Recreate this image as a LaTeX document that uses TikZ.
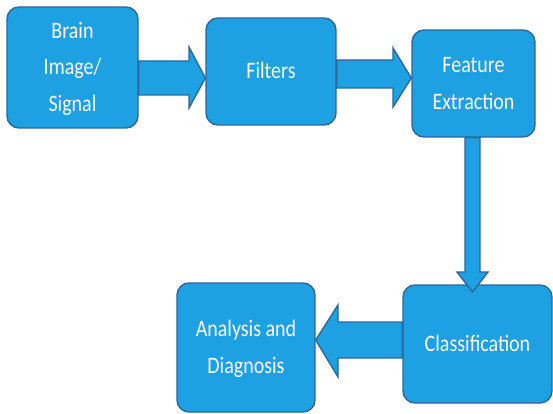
\documentclass[tikz,border=0pt]{standalone}
\usepackage{graphicx}
\usepackage{fontspec}
\setmainfont{Carlito}
\definecolor{boxblue}{RGB}{29,161,226}
\definecolor{edgeblue}{RGB}{44,104,156}
\newcommand{\lbl}[1]{\scalebox{1}[1.18]{\begin{tabular}{@{}c@{}}#1\end{tabular}}}
\tikzset{
  box/.style={rectangle, rounded corners=12pt, fill=boxblue, draw=edgeblue, line width=1.4pt,
    text=white, font=\fontsize{20}{31}\selectfont, inner sep=0pt},
  arr/.style={fill=boxblue, draw=edgeblue, line width=1.4pt, line join=miter}
}
\begin{document}
\begin{tikzpicture}[x=1pt,y=-1pt]
\useasboundingbox[fill=white] (0,0) rectangle (553,414);
% nodes
\node[box, minimum width=131pt, minimum height=121pt] (b1) at (72.5,67.5) {\lbl{Brain\\Image/\\Signal}};
\node[box, minimum width=130pt, minimum height=107pt] (b2) at (271,71.5) {\lbl{Filters}};
\node[box, minimum width=123pt, minimum height=107pt] (b3) at (473.5,83.5) {\lbl{Feature\\Extraction}};
\node[box, minimum width=149pt, minimum height=118pt] (b4) at (477.5,344) {\lbl{Classification}};
\node[box, minimum width=138pt, minimum height=129pt] (b5) at (246,347.5) {\lbl{Analysis and\\Diagnosis}};
% arrows
\draw[arr] (b1.east |- 0,61) -- (189,61) -- (189,47) -- (b2.west |- 0,78) -- (189,108) -- (189,95) -- (b1.east |- 0,95) -- cycle;
\draw[arr] (b2.east |- 0,60) -- (393,60) -- (393,48) -- (b3.west |- 0,78) -- (393,107) -- (393,88) -- (b2.east |- 0,88) -- cycle;
\draw[arr] (b4.west |- 0,322) -- (338,322) -- (338,305) -- (b5.east |- 0,340) -- (338,377) -- (338,358) -- (b4.west |- 0,358) -- cycle;
\draw[arr] (465,0 |- b3.south) -- (465,272) -- (457,272) -- (472.5,292) -- (488,272) -- (480,272) -- (480,0 |- b3.south) -- cycle;
\end{tikzpicture}
\end{document}
